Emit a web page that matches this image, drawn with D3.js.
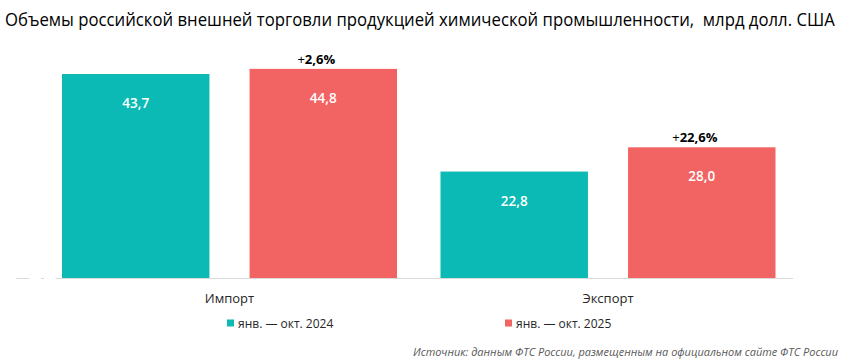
<!DOCTYPE html>
<html>
<head>
<meta charset="utf-8">
<script src="https://cdn.jsdelivr.net/npm/d3@7"></script>
<style>
  body { margin: 0; background: #fff; }
  text { font-family: "Open Sans", "Noto Sans", sans-serif; white-space: pre; }
</style>
</head>
<body>
<div id="chart"></div>
<script>
let categories = ["Импорт", "Экспорт"];
let seriesNames = ["янв. — окт. 2024", "янв. — окт. 2025"];
let values2024 = [43.7, 22.8];
let values2025 = [44.8, 28.0];
let growth = ["2,6%", "22,6%"];
let colors = ["#0bbab4", "#f26464"];

let dimension = {
    width: 843,
    height: 363,
    margin: { top: 44.6, left: 40.25, right: 45.75, bottom: 85 }
};

let svg = d3.select("#chart")
    .append("svg")
    .attr("width", dimension.width)
    .attr("height", dimension.height);

let baseY = dimension.height - dimension.margin.bottom;

let X = d3.scaleBand()
    .domain(categories)
    .range([dimension.margin.left, dimension.width - dimension.margin.right]);

let X1 = d3.scaleBand()
    .domain(seriesNames)
    .range([21.75, X.bandwidth() - 21.75])
    .paddingInner(40 / 187);

let Y = d3.scaleLinear()
    .domain([0, 50])
    .range([baseY, dimension.margin.top]);

let fmt = v => d3.format(".1f")(v).replace(".", ",");

// title, squeezed horizontally to the reference width
let title = svg.append("text")
    .attr("x", 0)
    .attr("y", 0)
    .attr("font-size", 17.5)
    .attr("fill", "#000")
    .text("Объемы российской внешней торговли продукцией химической промышленности,  млрд долл. США");
let tw = title.node().getComputedTextLength();
title.attr("transform", `translate(5,26) scale(${830 / tw},1)`);

// axis line
svg.append("line")
    .attr("x1", 56).attr("x2", 793)
    .attr("y1", baseY + 0.5).attr("y2", baseY + 0.5)
    .attr("stroke", "#d9d9d9");
[[16, 29], [41, 44]].forEach(s => {
    svg.append("line")
        .attr("x1", s[0]).attr("x2", s[1])
        .attr("y1", baseY + 0.5).attr("y2", baseY + 0.5)
        .attr("stroke", "#d9d9d9");
});

let rows = [];
categories.forEach((c, i) => {
    rows.push({ cat: c, series: seriesNames[0], value: values2024[i], color: colors[0] });
    rows.push({ cat: c, series: seriesNames[1], value: values2025[i], color: colors[1], growth: growth[i] });
});

svg.selectAll("rect.bar")
    .data(rows)
    .enter()
    .append("rect")
    .attr("class", "bar")
    .attr("x", d => X(d.cat) + X1(d.series))
    .attr("y", d => Y(d.value))
    .attr("width", X1.bandwidth())
    .attr("height", d => baseY - Y(d.value))
    .attr("fill", d => d.color);

svg.selectAll("text.val")
    .data(rows)
    .enter()
    .append("text")
    .attr("class", "val")
    .attr("x", d => X(d.cat) + X1(d.series) + X1.bandwidth() / 2)
    .attr("y", d => Y(d.value) + 34)
    .attr("text-anchor", "middle")
    .attr("font-size", 13.5)
    .attr("font-weight", 600)
    .attr("fill", "#fff")
    .text(d => fmt(d.value));

let g = svg.selectAll("text.growth")
    .data(rows.filter(d => d.growth))
    .enter()
    .append("text")
    .attr("class", "growth")
    .attr("x", d => X(d.cat) + X1(d.series) + X1.bandwidth() / 2 - 7)
    .attr("y", d => Y(d.value) - 5)
    .attr("text-anchor", "middle")
    .attr("font-size", 13)
    .attr("fill", "#000");
g.append("tspan").text("+");
g.append("tspan").attr("font-weight", 700).text(d => d.growth);

// category labels
svg.selectAll("text.cat")
    .data(categories)
    .enter()
    .append("text")
    .attr("class", "cat")
    .attr("x", d => X(d) + X.bandwidth() / 2)
    .attr("y", baseY + 25)
    .attr("text-anchor", "middle")
    .attr("font-size", 13)
    .attr("fill", "#262626")
    .text(d => d);

// legend
let legendX = [227, 505];
let lg = svg.selectAll("g.legend")
    .data(seriesNames)
    .enter()
    .append("g")
    .attr("class", "legend")
    .attr("transform", (d, i) => `translate(${legendX[i]},${baseY + 46})`);
lg.append("rect")
    .attr("x", 0).attr("y", -4.5)
    .attr("width", 7).attr("height", 7)
    .attr("fill", (d, i) => colors[i]);
lg.append("text")
    .attr("x", 11)
    .attr("y", 4)
    .attr("font-size", 12)
    .attr("fill", "#262626")
    .text(d => d);

// source
svg.append("text")
    .attr("x", 838)
    .attr("y", 356)
    .attr("text-anchor", "end")
    .attr("font-size", 11)
    .attr("font-style", "italic")
    .attr("fill", "#595959")
    .attr("textLength", 425)
    .attr("lengthAdjust", "spacingAndGlyphs")
    .text("Источник: данным ФТС России, размещенным на официальном сайте ФТС России");
</script>
</body>
</html>
